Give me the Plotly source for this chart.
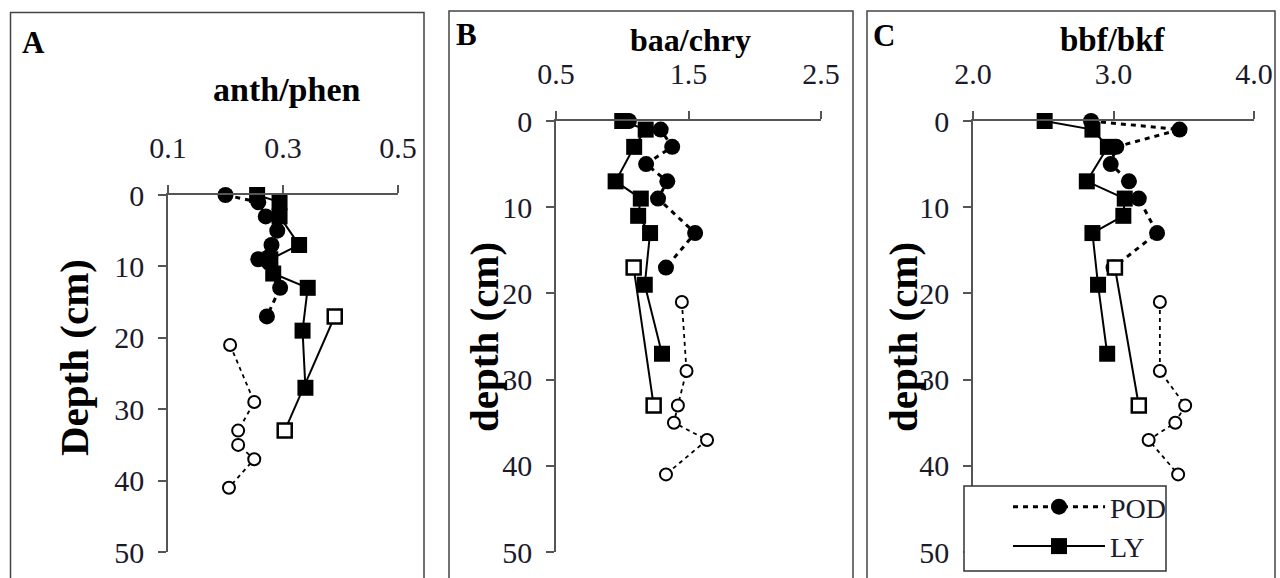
import plotly.graph_objects as go

# ---------------- data ----------------
depth_pod = [0, 1, 3, 5, 7, 9, 13, 17]
depth_pod_deep = [21, 29, 33, 35, 37, 41]
depth_ly = [0, 1, 3, 7, 9, 11, 13, 19, 27]
depth_ly_open = [17, 33]

# A: anth/phen
pod_a = [0.20, 0.257, 0.27, 0.29, 0.28, 0.257, 0.295, 0.272]
pod_a_deep = [0.208, 0.25, 0.222, 0.222, 0.25, 0.206]
ly_a = [0.255, 0.294, 0.294, 0.328, 0.278, 0.283, 0.343, 0.334, 0.339]
ly_a_open = [0.39, 0.303]

# B: baa/chry
pod_b = [1.05, 1.29, 1.377, 1.18, 1.34, 1.27, 1.55, 1.33]
pod_b_deep = [1.45, 1.485, 1.42, 1.39, 1.64, 1.33]
ly_b = [1.0, 1.177, 1.09, 0.95, 1.14, 1.12, 1.21, 1.17, 1.30]
ly_b_open = [1.086, 1.237]

# C: bbf/bkf
pod_c = [2.84, 3.47, 3.02, 2.98, 3.11, 3.18, 3.31, 3.0]
pod_c_deep = [3.33, 3.33, 3.51, 3.44, 3.25, 3.46]
ly_c = [2.51, 2.85, 2.96, 2.81, 3.08, 3.07, 2.85, 2.89, 2.955]
ly_c_open = [3.01, 3.18]

panel_titles = ["anth/phen", "baa/chry", "bbf/bkf"]
panel_letters = ["A", "B", "C"]
y_titles = ["Depth (cm)", "depth (cm)", "depth (cm)"]
x_ranges = [[0.1, 0.5], [0.5, 2.5], [2.0, 4.0]]
x_ticks = [[0.1, 0.3, 0.5], [0.5, 1.5, 2.5], [2.0, 3.0, 4.0]]
depth_ticks = [0, 10, 20, 30, 40, 50]
series_names = ["POD", "LY"]

W, H = 1280, 578
FONT = "Liberation Serif, Times New Roman, serif"
AX = "#555555"
TXT = "#1a1a2a"


def px(x):
    return x / W


def py(y):
    return 1 - y / H


# pixel layout of the three panels
x_dom_px = [(168, 398), (556, 821), (973, 1254)]
y_top_px = [195, 121, 121]
y_bot_px = 552
frames_px = [(10.5, 12.5, 424, 582), (449, 11, 853, 582), (867, 11, 1275, 582)]

fig = go.Figure()

panels = [
    (pod_a, pod_a_deep, ly_a, ly_a_open),
    (pod_b, pod_b_deep, ly_b, ly_b_open),
    (pod_c, pod_c_deep, ly_c, ly_c_open),
]

for i, (pod, pod_deep, ly, ly_open) in enumerate(panels):
    xa = "x" if i == 0 else f"x{i+1}"
    ya = "y" if i == 0 else f"y{i+1}"
    first = i == 0
    fig.add_trace(go.Scatter(
        x=pod, y=depth_pod, xaxis=xa, yaxis=ya, mode="lines+markers",
        name=series_names[0], showlegend=first, legendgroup="pod",
        line=dict(color="black", width=3, dash="5px,5px"),
        marker=dict(symbol="circle", size=16, color="black"),
        cliponaxis=False))
    fig.add_trace(go.Scatter(
        x=pod_deep, y=depth_pod_deep, xaxis=xa, yaxis=ya, mode="lines+markers",
        showlegend=False,
        line=dict(color="black", width=1.8, dash="4px,4px"),
        marker=dict(symbol="circle", size=12, color="white",
                    line=dict(color="black", width=2)),
        cliponaxis=False))
    fig.add_trace(go.Scatter(
        x=ly, y=depth_ly, xaxis=xa, yaxis=ya, mode="lines+markers",
        name=series_names[1], showlegend=first, legendgroup="ly",
        line=dict(color="black", width=2),
        marker=dict(symbol="square", size=16, color="black"),
        cliponaxis=False))
    fig.add_trace(go.Scatter(
        x=ly_open, y=depth_ly_open, xaxis=xa, yaxis=ya, mode="lines+markers",
        showlegend=False,
        line=dict(color="black", width=2),
        marker=dict(symbol="square", size=14, color="white",
                    line=dict(color="black", width=2.5)),
        cliponaxis=False))

layout = dict(
    width=W, height=H, autosize=False,
    margin=dict(l=0, r=0, t=0, b=0, pad=0, autoexpand=False),
    paper_bgcolor="white", plot_bgcolor="white",
    font=dict(family=FONT, color=TXT),
    showlegend=True,
    legend=dict(
        x=px(1008), y=py(482), xanchor="left", yanchor="top",
        bgcolor="rgba(0,0,0,0)", borderwidth=0,
        font=dict(family=FONT, size=28, color=TXT),
        itemwidth=92, tracegroupgap=0,
    ),
)

for i in range(3):
    xk = "xaxis" if i == 0 else f"xaxis{i+1}"
    yk = "yaxis" if i == 0 else f"yaxis{i+1}"
    ya = "y" if i == 0 else f"y{i+1}"
    xa = "x" if i == 0 else f"x{i+1}"
    layout[xk] = dict(
        domain=[px(x_dom_px[i][0]), px(x_dom_px[i][1])],
        range=x_ranges[i], tickvals=x_ticks[i], tickformat=".1f",
        side="top", anchor=ya, automargin=False,
        showline=True, linecolor=AX, linewidth=1.5,
        ticks="outside", ticklen=8, tickcolor=AX, tickwidth=1.5,
        showgrid=False, zeroline=False,
        tickfont=dict(family=FONT, size=30, color=TXT),
        ticklabelstandoff=15,
    )
    layout[yk] = dict(
        domain=[py(y_bot_px), py(y_top_px[i])],
        range=[50, 0], tickvals=depth_ticks,
        anchor=xa, automargin=False,
        showline=True, linecolor=AX, linewidth=1.5,
        ticks="outside", ticklen=8, tickcolor=AX, tickwidth=1.5,
        showgrid=False, zeroline=False,
        tickfont=dict(family=FONT, size=30, color=TXT),
        ticklabelstandoff=8,
    )

fig.update_layout(**layout)

# frames
for (x0, y0, x1, y1) in frames_px:
    fig.add_shape(type="rect", xref="paper", yref="paper",
                  x0=px(x0), x1=px(x1), y0=py(y1), y1=py(y0),
                  line=dict(color="#444444", width=1.5), layer="below")

# legend box (white, covers the axis line beneath it)
fig.add_shape(type="rect", xref="paper", yref="paper",
              x0=px(964), x1=px(1166), y0=py(571), y1=py(486),
              fillcolor="white", line=dict(color="#333333", width=1.5),
              layer="above")

# panel titles
title_pos = [(286, 90, 34), (690, 40, 32), (1113, 40, 33)]
for t, (x, y, s) in zip(panel_titles, title_pos):
    fig.add_annotation(text=f"<b>{t}</b>", xref="paper", yref="paper",
                       x=px(x), y=py(y), xanchor="center", yanchor="middle",
                       showarrow=False, font=dict(family=FONT, size=s, color="black"))

# panel letters
letter_pos = [(33, 42), (466, 34), (884, 35)]
for t, (x, y) in zip(panel_letters, letter_pos):
    fig.add_annotation(text=f"<b>{t}</b>", xref="paper", yref="paper",
                       x=px(x), y=py(y), xanchor="center", yanchor="middle",
                       showarrow=False, font=dict(family=FONT, size=31, color="black"))

# y-axis titles
ytitle_pos = [(74, 358), (484, 337), (903, 337)]
for t, (x, y) in zip(y_titles, ytitle_pos):
    fig.add_annotation(text=f"<b>{t}</b>", xref="paper", yref="paper",
                       x=px(x), y=py(y), xanchor="center", yanchor="middle",
                       textangle=-90, showarrow=False,
                       font=dict(family=FONT, size=41, color="black"))

fig.write_html(
    "out.html",
    config={"displayModeBar": False},
    post_script="document.body.style.margin='0px';"
                "document.documentElement.style.overflow='hidden';",
)
